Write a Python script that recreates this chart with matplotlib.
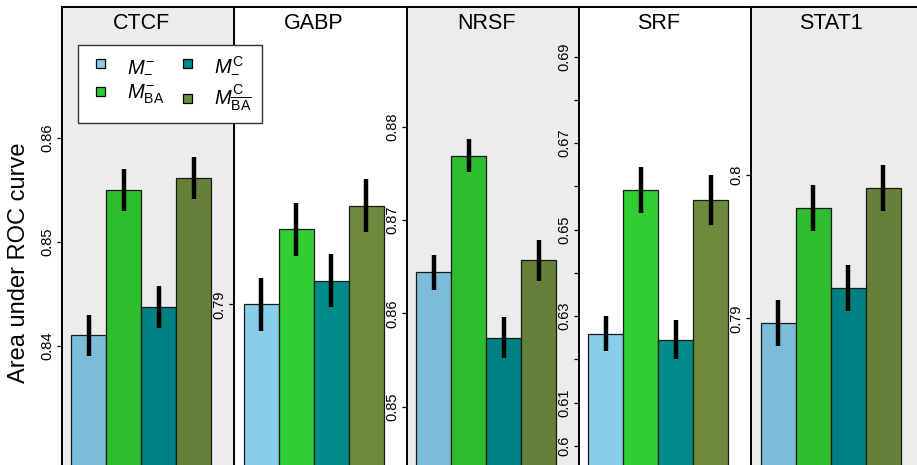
import numpy as np
import matplotlib
matplotlib.use("Agg")
import matplotlib.pyplot as plt
from matplotlib.patches import Patch, Rectangle
from matplotlib.legend_handler import HandlerPatch
import matplotlib.transforms as mtransforms

plt.rcParams["font.family"] = ["Liberation Sans", "DejaVu Sans"]
plt.rcParams["mathtext.fontset"] = "custom"
plt.rcParams["mathtext.rm"] = "Liberation Sans"
plt.rcParams["mathtext.it"] = "Liberation Sans:italic"

# ── data ─────────────────────────────────────────────────────────────────────
factors = ["CTCF", "GABP", "NRSF", "SRF", "STAT1"]
models  = ["$M^{\u2212}_{\u2212}$", "$M^{\u2212}_{\\mathrm{BA}}$",
           "$M^{\\mathrm{C}}_{\u2212}$", "$M^{\\mathrm{C}}_{\\overline{\\mathrm{BA}}}$"]
colors  = ["#87CEEB", "#32CD32", "#008B8B", "#6E8B3D"]

auc_m       = [0.8410, 0.79000, 0.8644, 0.6260, 0.7897]
auc_m_ba    = [0.8550, 0.79126, 0.8769, 0.6591, 0.7977]
auc_mc      = [0.8437, 0.79040, 0.8574, 0.6246, 0.7921]
auc_mc_ba   = [0.8561, 0.79166, 0.8657, 0.6569, 0.7991]

err_m       = [0.0020, 0.00045, 0.0019, 0.0041, 0.0016]
err_m_ba    = [0.0020, 0.00045, 0.0018, 0.0053, 0.0016]
err_mc      = [0.0020, 0.00045, 0.0022, 0.0045, 0.0016]
err_mc_ba   = [0.0020, 0.00045, 0.0022, 0.0057, 0.0016]

ylims = [(0.82853, 0.87257), (0.7873, 0.7950), (0.84375, 0.89282),
         (0.59561, 0.70149), (0.77977, 0.81172)]
yticks = [[0.84, 0.85, 0.86],
          [0.79],
          [0.85, 0.86, 0.87, 0.88],
          [0.60, 0.61, 0.62, 0.63, 0.64, 0.65, 0.66, 0.67, 0.68, 0.69],
          [0.79, 0.80]]
ytick_labels = [["0.84", "0.85", "0.86"],
                ["0.79"],
                ["0.85", "0.86", "0.87", "0.88"],
                ["0.6", "0.61", "", "0.63", "", "0.65", "", "0.67", "", "0.69"],
                ["0.79", "0.8"]]

values = np.array([auc_m, auc_m_ba, auc_mc, auc_mc_ba])
errors = np.array([err_m, err_m_ba, err_mc, err_mc_ba])


def small_square(legend, orig_handle, xdescent, ydescent, width, height, fontsize):
    # square key pushed to the right end of the handle box
    s = 0.45 * fontsize
    return Rectangle((-xdescent + width - s, -ydescent + (height - s) / 2), s, s)


# ── plot ─────────────────────────────────────────────────────────────────────
W, H = 917, 465
fig = plt.figure(figsize=(W / 100, H / 100), dpi=100)

x = np.arange(len(models))
for i, name in enumerate(factors):
    left = 62 + i * 172.3
    ax = fig.add_axes([left / W, 0, 172.3 / W, 458 / H])
    ax.bar(x, values[:, i], width=1.0, color=colors,
           edgecolor="#1a1a1a", linewidth=0.9, zorder=2)
    ax.errorbar(x, values[:, i], yerr=errors[:, i], fmt="none",
                ecolor="black", elinewidth=3.2, capsize=0, zorder=3)
    ax.set_xlim(-0.771, 4.152)
    ax.set_ylim(*ylims[i])
    ax.set_xticks([])
    ax.set_yticks(yticks[i], ytick_labels[i])
    ax.tick_params(axis="y", length=3.5, width=0.9, pad=2,
                   labelsize=10.5, labelrotation=90)
    for lab in ax.get_yticklabels():
        lab.set_va("center")
    for side in ["bottom", "right"]:
        ax.spines[side].set_visible(False)
    for side in ["left", "top"]:
        ax.spines[side].set_linewidth(1.4)
    trans = mtransforms.blended_transform_factory(ax.transData, ax.transAxes)
    ax.text(1.5, 0.964, name, transform=trans, ha="center", va="center",
            fontsize=15.5, zorder=4)
    if i % 2 == 0:
        # grey panels: translucent overlay that also darkens the bars
        ax.add_patch(Rectangle((0, 0), 1, 1, transform=ax.transAxes,
                               facecolor="black", alpha=0.075,
                               edgecolor="none", zorder=5))

fig.text(19 / W, 1 - 263 / H, "Area under ROC curve", rotation=90,
         ha="center", va="center", fontsize=17)

handles = [Patch(facecolor=c, edgecolor="black", linewidth=0.9) for c in colors]
fig.legend(handles, models, ncol=2, loc="upper left",
           bbox_to_anchor=(78 / W, 1 - 45 / H), borderaxespad=0, fontsize=14.5,
           frameon=True, fancybox=False, framealpha=1, edgecolor="#333333",
           handler_map={Patch: HandlerPatch(patch_func=small_square)},
           handlelength=0.85, handleheight=0.45, handletextpad=1.1,
           columnspacing=0.5, labelspacing=0.4, borderpad=0.5)

plt.savefig("out.png", dpi=100)
